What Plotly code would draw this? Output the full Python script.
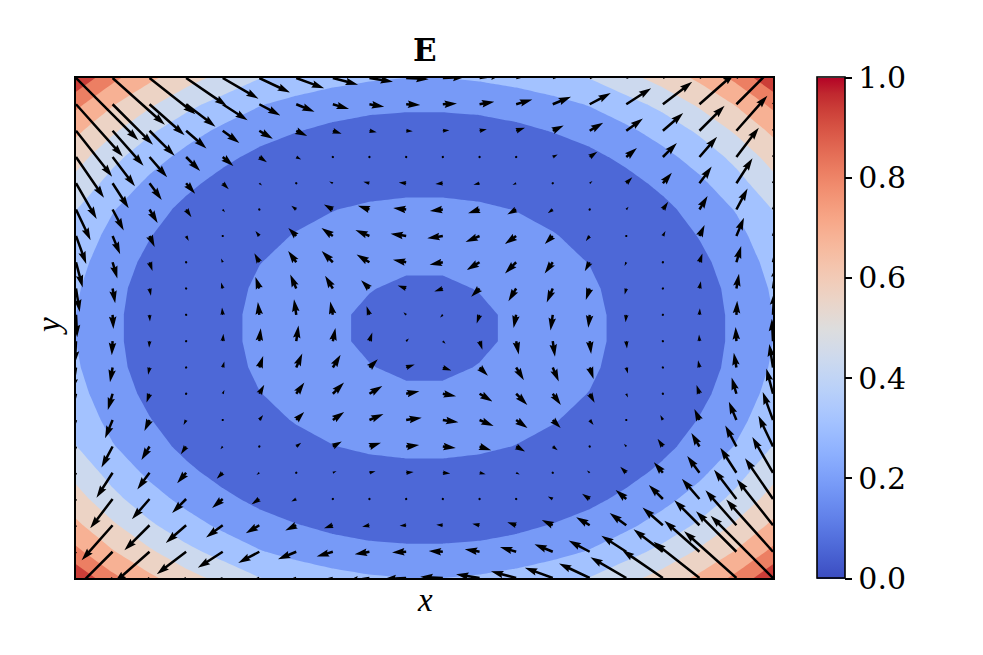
import math
import plotly.graph_objects as go

# One quadrant (x >= 0, y >= 0); the field mirrors into the other three.
coords = [0.0526, 0.158, 0.263, 0.368, 0.474, 0.579, 0.684, 0.789, 0.895, 1.0]

magnitude = [
    [.042, .100, .150, .175, .155, .090, .012, .068, .150, .250],
    [.100, .131, .167, .170, .145, .078, .010, .078, .158, .264],
    [.150, .167, .175, .160, .122, .050, .025, .098, .180, .290],
    [.175, .170, .160, .135, .078, .012, .060, .130, .212, .330],
    [.155, .145, .122, .078, .020, .038, .098, .168, .258, .378],
    [.090, .078, .050, .012, .038, .090, .150, .225, .330, .460],
    [.012, .010, .025, .060, .098, .150, .215, .300, .410, .550],
    [.068, .078, .098, .130, .168, .225, .300, .395, .520, .650],
    [.150, .158, .180, .212, .258, .330, .410, .520, .635, .780],
    [.250, .264, .290, .330, .378, .460, .550, .650, .780, .980],
]
u_values = [
    [-.030, -.032, -.029, -.025, -.016, -.008, -.001, .005, .009, .013],
    [-.095, -.093, -.086, -.067, -.043, -.018, .002, .016, .029, .041],
    [-.147, -.143, -.124, -.090, -.055, -.019, .009, .033, .053, .074],
    [-.173, -.156, -.126, -.088, -.043, -.006, .029, .057, .084, .114],
    [-.144, -.128, -.099, -.055, -.014, .025, .059, .090, .124, .162],
    [-.083, -.068, -.041, -.010, .031, .067, .100, .136, .179, .230],
    [-.012, .010, .023, .055, .085, .118, .156, .196, .249, .311],
    [.073, .081, .098, .122, .150, .185, .226, .279, .344, .402],
    [.157, .164, .180, .203, .234, .277, .326, .390, .449, .520],
    [.250, .261, .280, .310, .341, .398, .454, .510, .581, .693],
]
v_values = [
    [-.030, -.095, -.147, -.173, -.144, -.083, -.012, .073, .157, .250],
    [-.032, -.093, -.143, -.156, -.128, -.068, .010, .081, .164, .261],
    [-.029, -.086, -.124, -.126, -.099, -.041, .023, .098, .180, .280],
    [-.025, -.067, -.090, -.088, -.055, -.010, .055, .122, .203, .310],
    [-.016, -.043, -.055, -.043, -.014, .031, .085, .150, .234, .341],
    [-.008, -.018, -.019, -.006, .025, .067, .118, .185, .277, .398],
    [-.001, .002, .009, .029, .059, .100, .156, .226, .326, .454],
    [.005, .016, .033, .057, .090, .136, .196, .279, .390, .510],
    [.009, .029, .053, .084, .124, .179, .249, .344, .449, .581],
    [.013, .041, .074, .114, .162, .230, .311, .402, .520, .693],
]
colorbar_ticks = [0.0, 0.2, 0.4, 0.6, 0.8, 1.0]
coolwarm_rgb = [
    (59, 76, 192), (68, 90, 204), (77, 104, 215), (87, 117, 225), (98, 130, 234),
    (108, 142, 241), (119, 154, 247), (130, 165, 251), (141, 176, 254), (152, 185, 255),
    (163, 194, 255), (174, 201, 253), (184, 208, 249), (194, 213, 244), (204, 217, 238),
    (213, 219, 230), (221, 221, 221), (229, 216, 209), (236, 211, 197), (241, 204, 185),
    (244, 196, 173), (246, 187, 160), (247, 177, 148), (247, 166, 135), (244, 154, 123),
    (241, 141, 111), (236, 127, 99), (229, 112, 88), (222, 96, 77), (213, 80, 66),
    (203, 62, 56), (192, 40, 47), (180, 4, 38),
]
coolwarm = [[i / 32, f"rgb{c}"] for i, c in enumerate(coolwarm_rgb)]

# Canvas
W, H = 983, 655
L, R, T, B = 76, 773, 78, 578
SERIF = "DejaVu Serif"
px_x = (R - L) / 2
px_y = (B - T) / 2

# Mirror the quadrant to the whole grid
n = len(coords)
axis = [-c for c in reversed(coords)] + coords
idx = list(range(n - 1, -1, -1)) + list(range(n))
sgn = [-1] * n + [1] * n
Z = [[magnitude[j][i] for i in idx] for j in idx]
U = [[u_values[j][i] * sgn[jj] for i in idx] for jj, j in enumerate(idx)]
V = [[v_values[j][i] * sgn[ii] for ii, i in enumerate(idx)] for j in idx]

# Filled arrows in the shape matplotlib's quiver uses
SCALE = 90.0   # px per unit of field
WIDTH = 2.5    # shaft width px
HL, HW, HAL, MINSH_F, MINLEN = 5.0, 3.0, 4.5, 1.0, 1.0
ax_x, ax_y = [], []
for jj, yv in enumerate(axis):
    for ii, xv in enumerate(axis):
        u, v = U[jj][ii], V[jj][ii]
        mag = math.hypot(u, v)
        ln = mag * SCALE / WIDTH
        minsh = MINSH_F * HL
        if ln < MINLEN:
            pts = [(math.cos(k * math.pi / 3) * MINLEN * .5, math.sin(k * math.pi / 3) * MINLEN * .5) for k in range(7)]
        else:
            if ln < minsh:
                s = ln / minsh
                xs = [0, minsh - HAL, minsh - HL, minsh]
                xs = [a * s for a in xs]
                ys = [.5 * s, .5 * s, .5 * HW * s, 0]
            else:
                xs = [0, ln - HAL, ln - HL, ln]
                ys = [.5, .5, .5 * HW, 0]
            order = [0, 1, 2, 3, 2, 1, 0, 0]
            pts = []
            for k, o in enumerate(order):
                pts.append((xs[o], -ys[o] if 4 <= k <= 6 else ys[o]))
            pts[-1] = pts[0]
        c, s_ = (u / mag, v / mag) if mag else (1.0, 0.0)
        for px, py in pts:
            dx = (px * c - py * s_) * WIDTH
            dy = (px * s_ + py * c) * WIDTH
            ax_x.append(xv + dx / px_x)
            ax_y.append(yv + dy / px_y)
        ax_x.append(None)
        ax_y.append(None)

fig = go.Figure()
fig.add_trace(go.Contour(
    x=axis, y=axis, z=Z,
    colorscale=coolwarm, zmin=0, zmax=1, showscale=False,
    autocontour=False, contours=dict(start=0, end=1, size=0.125, coloring="fill", showlines=False),
    line=dict(width=0, smoothing=0), hoverinfo="skip",
))
fig.add_trace(go.Scatter(
    x=ax_x, y=ax_y, mode="lines", fill="toself", fillcolor="black",
    line=dict(width=0, color="black"), hoverinfo="skip", showlegend=False,
))
fig.add_trace(go.Scatter(
    x=[None], y=[None], mode="markers", showlegend=False, hoverinfo="skip",
    marker=dict(
        color=[0], cmin=0, cmax=1, colorscale=coolwarm, showscale=True,
        colorbar=dict(
            thickness=28, len=1.002, lenmode="fraction", x=(817 - L) / (R - L), xanchor="left",
            y=0.5, yanchor="middle", xpad=0, ypad=0,
            outlinewidth=1.6, outlinecolor="black",
            ticks="outside", ticklen=7, tickwidth=1.6, tickcolor="black",
            tickvals=colorbar_ticks, ticktext=[f"{t:.1f}" for t in colorbar_ticks],
            tickfont=dict(family=SERIF, size=30, color="black"),
        ),
    ),
))
axcfg = dict(range=[-1, 1], showgrid=False, zeroline=False, showticklabels=False, ticks="",
             showline=True, mirror=True, linecolor="black", linewidth=1.6)
fig.update_layout(
    width=W, height=H, autosize=False, showlegend=False,
    margin=dict(l=L, r=W - R, t=T, b=H - B, pad=0),
    paper_bgcolor="white", plot_bgcolor="white",
    xaxis=dict(**axcfg), yaxis=dict(**axcfg),
    annotations=[
        dict(text="<b>E</b>", xref="paper", yref="paper", x=0.5, y=1, yanchor="middle", yshift=28, showarrow=False,
             font=dict(family=SERIF, size=31, color="black")),
        dict(text="<i>x</i>", xref="paper", yref="paper", x=0.5, y=0, yanchor="middle", yshift=-22, showarrow=False,
             font=dict(family="Liberation Serif", size=33, color="black")),
        dict(text="<i>y</i>", xref="paper", yref="paper", x=0, y=0.5, xanchor="center", yanchor="middle", xshift=-27, yshift=2,
             showarrow=False, textangle=-90, font=dict(family="Liberation Serif", size=33, color="black")),
    ],
)
fig.write_html("out.html", config={"displayModeBar": False},
               post_script="document.body.style.margin='0';")
